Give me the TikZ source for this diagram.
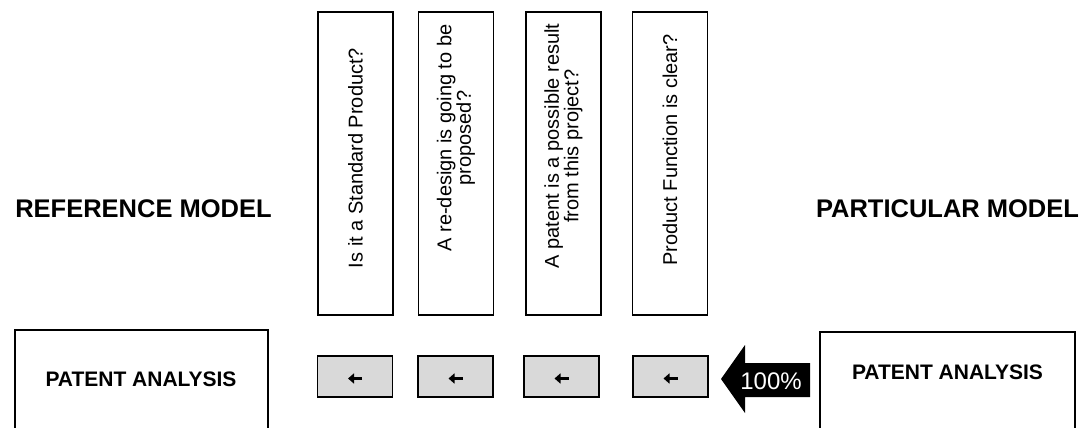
\documentclass[tikz,border=0pt]{standalone}
\usepackage{fontspec}
\setmainfont{Liberation Sans}
\usetikzlibrary{arrows.meta}

\begin{document}
\begin{tikzpicture}[
  x=1pt,y=-1pt,
  frame/.style={draw,line width=1.5pt},
  question/.style={frame,minimum width=75pt,minimum height=303pt},
  qtext/.style={rotate=90,align=center,font=\fontsize{20}{16.5}\selectfont},
  answer/.style={frame,fill=gray!30,minimum width=75pt,minimum height=41pt},
  heading/.style={font=\bfseries\fontsize{25.5}{28}\selectfont},
  boxtext/.style={font=\bfseries\fontsize{21}{24}\selectfont},
  back/.style={line width=2.2pt,-{Triangle[length=6pt,width=10pt]}}
]
  \useasboundingbox (0,0) rectangle (1088,428);
  \node[heading] (refhead) at (143.5,208.5) {REFERENCE MODEL};
  \node[heading] (parthead) at (947.5,209) {PARTICULAR MODEL};
  \node[frame,minimum width=253pt,minimum height=104pt] (refbox) at (141.5,382) {};
  \node[boxtext] (reftext) at (141,379.5) {PATENT ANALYSIS};
  \node[frame,minimum width=255pt,minimum height=102pt] (partbox) at (947.5,383) {};
  \node[boxtext] (parttext) at (947.5,372.5) {PATENT ANALYSIS};
  \node[question] (q1) at (355.5,163.5) {};
  \node[qtext] (q1text) at (355.5,158) {Is it a Standard Product?};
  \node[question] (q2) at (456,163.5) {};
  \node[qtext] (q2text) at (456,138) {A re-design is going to be\\proposed?};
  \node[question] (q3) at (563.5,163.5) {};
  \node[qtext] (q3text) at (563.5,146) {A patent is a possible result\\from this project?};
  \node[question] (q4) at (670,163.5) {};
  \node[qtext] (q4text) at (670,150) {Product Function is clear?};
  \node[answer] (a1) at (355,376.5) {};
  \node[answer] (a2) at (455.5,376.5) {};
  \node[answer] (a3) at (561.5,376.5) {};
  \node[answer] (a4) at (670.5,376.5) {};
  \draw[back] ([xshift=7pt,yshift=-2pt]a1.center) -- ([xshift=-7pt,yshift=-2pt]a1.center);
  \draw[back] ([xshift=7pt,yshift=-2pt]a2.center) -- ([xshift=-7pt,yshift=-2pt]a2.center);
  \draw[back] ([xshift=7pt,yshift=-2pt]a3.center) -- ([xshift=-7pt,yshift=-2pt]a3.center);
  \draw[back] ([xshift=7pt,yshift=-2pt]a4.center) -- ([xshift=-7pt,yshift=-2pt]a4.center);
  \fill (721,379) -- (745,345) -- (745,363) -- (810,363) -- (810,397) -- (745,397) -- (745,413) -- cycle;
  \node[text=white,font=\fontsize{24}{26}\selectfont] (pct) at (771,381) {100\%};
\end{tikzpicture}
\end{document}
